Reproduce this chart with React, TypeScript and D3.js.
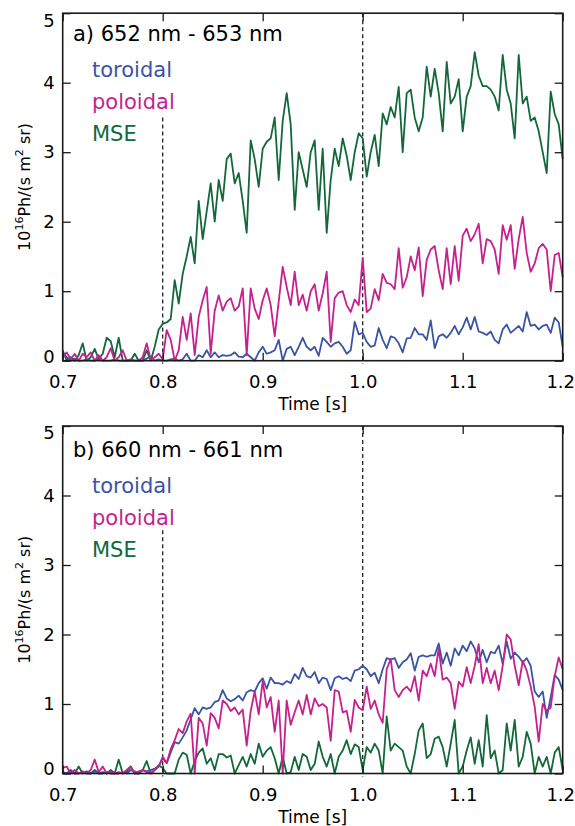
import React, { useRef, useEffect } from "react";
import * as d3 from "d3";

// sampling of the traces: one value every 4 ms from 0.7 s
const T_START = 0.7;
const T_STEP = 0.004;

const panelTitles = ["a) 652 nm - 653 nm", "b) 660 nm - 661 nm"];
const seriesNames = ["toroidal", "poloidal", "MSE"];
const seriesColors = ["#3a54a5", "#c71f8d", "#12683a"];
const xTicks = [0.7, 0.8, 0.9, 1.0, 1.1, 1.2];
const xTickLabels = ["0.7", "0.8", "0.9", "1.0", "1.1", "1.2"];
const yTicks = [0, 1, 2, 3, 4, 5];
const markerTimes = [0.8, 1.0];
const markerTops = [3.5, 5];

// panel a) 652 - 653 nm
const aToroidal = [
  0.12, 0.05, 0.0, 0.03, 0.0, 0.0, 0.02, 0.0, 0.0, 0.03,
  0.0, 0.0, 0.0, 0.02, 0.0, 0.0, 0.0, 0.0, 0.0, 0.0,
  0.0, 0.03, 0.06, 0.0, 0.02, 0.0, 0.0, 0.02, 0.03, 0.0,
  0.02, 0.1, 0.0, 0.0, 0.08, 0.05, 0.15, 0.05, 0.12, 0.05,
  0.08, 0.07, 0.08, 0.12, 0.06, 0.05, 0.1, 0.05, 0.0, 0.12,
  0.2, 0.1, 0.12, 0.15, 0.3, 0.0, 0.17, 0.2, 0.08, 0.2,
  0.33, 0.2, 0.15, 0.2, 0.07, 0.33, 0.27, 0.2, 0.25, 0.27,
  0.2, 0.1, 0.15, 0.56, 0.38, 0.4, 0.27, 0.2, 0.22, 0.47,
  0.3, 0.18, 0.35, 0.33, 0.25, 0.12, 0.32, 0.33, 0.47, 0.38,
  0.38, 0.3, 0.58, 0.18, 0.35, 0.38, 0.33, 0.4, 0.5, 0.38,
  0.48, 0.62, 0.45, 0.63, 0.42, 0.4, 0.37, 0.42, 0.3, 0.25,
  0.45, 0.52, 0.4, 0.45, 0.5, 0.42, 0.7, 0.5, 0.52, 0.45,
  0.5, 0.52, 0.4, 0.62, 0.55, 0.2,
];
const aPoloidal = [
  0.05, 0.12, 0.02, 0.1, 0.0, 0.1, 0.05, 0.12, 0.0, 0.08,
  0.0, 0.05, 0.18, 0.0, 0.05, 0.15, 0.0, 0.02, 0.0, 0.0,
  0.05, 0.25, 0.02, 0.05, 0.1, 0.02, 0.44, 0.3, 0.0, 0.15,
  0.63, 0.3, 0.68, 0.08, 0.63, 0.87, 1.06, 0.1, 0.72, 0.94,
  0.72, 0.85, 0.9, 0.72, 0.78, 1.04, 0.08, 1.04, 0.75, 0.6,
  0.87, 1.04, 0.8, 0.35, 0.85, 1.35, 1.06, 0.8, 1.28, 0.8,
  0.95, 0.72, 1.0, 1.1, 0.72, 0.97, 1.28, 0.27, 0.9, 0.98,
  1.0, 0.8, 0.7, 0.88, 0.8, 1.48, 0.7, 0.75, 1.03, 0.87,
  1.25, 1.12, 1.1, 1.03, 1.62, 1.05, 1.2, 1.5, 1.3, 1.63,
  0.93, 1.45, 1.6, 1.65, 1.3, 1.03, 1.62, 1.1, 1.65, 1.15,
  1.8, 1.9, 1.72, 1.82, 1.97, 1.4, 1.75, 1.72, 1.6, 1.25,
  1.95, 1.74, 1.95, 1.32, 1.75, 2.07, 1.55, 1.28, 1.4, 1.62,
  1.68, 1.6, 1.0, 1.52, 1.55, 1.2,
];
const aMSE = [
  0.15, 0.0, 0.05, 0.0, 0.08, 0.25, 0.0, 0.05, 0.17, 0.02,
  0.1, 0.33, 0.28, 0.05, 0.33, 0.0, 0.0, 0.0, 0.1, 0.0,
  0.0, 0.15, 0.0, 0.2, 0.45, 0.53, 0.55, 0.6, 1.16, 0.82,
  1.25, 1.5, 1.78, 1.4, 2.3, 1.75, 2.15, 2.55, 2.0, 2.6,
  2.3, 2.9, 2.98, 2.55, 2.7, 2.3, 1.84, 3.17, 2.9, 2.5,
  3.05, 3.15, 3.2, 3.5, 2.6, 3.45, 3.85, 3.4, 2.17, 3.0,
  2.75, 2.5, 3.0, 3.17, 2.17, 3.05, 1.84, 2.6, 3.05, 2.8,
  3.2, 2.95, 2.6, 3.0, 3.27, 3.2, 2.65, 3.0, 3.25, 2.8,
  3.56, 3.4, 3.65, 3.5, 3.94, 3.0, 3.85, 3.9, 3.5, 3.3,
  3.5, 4.23, 3.8, 4.2, 3.85, 3.3, 4.3, 3.7, 3.8, 4.05,
  3.3, 3.8, 3.95, 4.44, 4.1, 3.95, 3.95, 3.9, 3.8, 3.6,
  4.4, 3.9, 3.7, 3.2, 4.4, 3.7, 3.8, 3.45, 3.5, 3.3,
  3.0, 2.7, 3.87, 3.55, 3.4, 2.9,
];

// panel b) 660 - 661 nm
const bToroidal = [
  0.02, 0.0, 0.03, 0.0, 0.0, 0.02, 0.0, 0.0, 0.03, 0.0,
  0.0, 0.02, 0.0, 0.0, 0.0, 0.02, 0.0, 0.05, 0.03, 0.0,
  0.05, 0.03, 0.05, 0.07, 0.1, 0.22, 0.15, 0.3, 0.45, 0.43,
  0.52, 0.62, 0.78, 0.94, 0.85, 0.95, 0.93, 0.95, 1.03, 1.05,
  1.2, 1.08, 1.04, 1.07, 1.12, 1.05, 1.17, 1.2, 1.18, 1.3,
  1.37, 1.22, 1.38, 1.3, 1.3, 1.28, 1.33, 1.3, 1.43, 1.36,
  1.52, 1.4, 1.38, 1.46, 1.3, 1.38, 1.36, 1.2, 1.37, 1.4,
  1.36, 1.38, 1.33, 1.48, 1.5, 1.55, 1.5, 1.4, 1.45, 1.3,
  1.5, 1.66, 1.64, 1.66, 1.52, 1.6, 1.64, 1.73, 1.48, 1.68,
  1.7, 1.68, 1.7, 1.7, 1.87, 1.58, 1.74, 1.55, 1.8, 1.7,
  1.84, 1.76, 1.9, 1.8, 1.6, 1.78, 1.6, 1.75, 1.73, 1.84,
  1.58, 1.9, 1.65, 1.74, 1.68, 1.6, 1.66, 1.55, 1.18, 1.1,
  1.18, 0.8, 1.1, 1.42, 1.35, 1.2,
];
const bPoloidal = [
  0.08, 0.1, 0.0, 0.05, 0.0, 0.03, 0.0, 0.05, 0.2, 0.02,
  0.1, 0.0, 0.03, 0.0, 0.02, 0.0, 0.05, 0.1, 0.0, 0.03,
  0.05, 0.02, 0.0, 0.05, 0.1, 0.24, 0.15, 0.35, 0.48, 0.64,
  0.58, 0.75, 0.86, 0.0, 0.8, 0.72, 0.4, 0.87, 0.8, 0.65,
  1.05, 1.0, 0.9, 0.95, 0.85, 0.92, 0.4, 0.9, 1.18, 0.85,
  1.33, 0.95, 1.1, 0.6, 1.05, 0.0, 1.05, 0.7, 0.88, 1.05,
  0.85, 1.13, 0.85, 1.08, 0.97, 1.0, 0.95, 0.47, 1.2, 1.18,
  0.88, 0.9, 0.6, 1.06, 0.95, 0.91, 1.25, 0.93, 1.05, 0.85,
  0.73, 1.5, 1.65, 1.2, 1.1, 1.2, 1.25, 1.18, 1.4, 1.05,
  1.48, 1.4, 1.58, 1.4, 1.8, 1.35, 1.38, 1.3, 0.93, 1.32,
  1.25, 1.53, 1.3, 1.55, 1.86, 1.3, 1.52, 1.3, 1.48, 1.2,
  1.55, 2.0, 1.93, 1.55, 1.27, 1.62, 1.48, 1.25, 0.96, 0.46,
  1.0, 0.9, 0.95, 1.4, 1.67, 1.5,
];
const bMSE = [
  0.02, 0.0, 0.05, 0.0, 0.1, 0.0, 0.03, 0.0, 0.05, 0.0,
  0.02, 0.0, 0.05, 0.0, 0.2, 0.0, 0.02, 0.1, 0.0, 0.0,
  0.05, 0.18, 0.0, 0.05, 0.12, 0.08, 0.0, 0.0, 0.0, 0.2,
  0.3, 0.27, 0.0, 0.18, 0.3, 0.36, 0.14, 0.22, 0.05, 0.28,
  0.28, 0.23, 0.26, 0.0, 0.12, 0.24, 0.1, 0.28, 0.14, 0.43,
  0.24, 0.33, 0.38, 0.22, 0.0, 0.24, 0.0, 0.02, 0.24, 0.05,
  0.28, 0.24, 0.05, 0.14, 0.46, 0.24, 0.1, 0.28, 0.0, 0.24,
  0.33, 0.48, 0.28, 0.42, 0.38, 0.05, 0.38, 0.3, 0.43, 0.33,
  0.0, 0.82, 0.33, 0.43, 0.38, 0.33, 0.1, 0.0, 0.28, 0.62,
  0.72, 0.22, 0.28, 0.5, 0.53, 0.38, 0.1, 0.43, 0.77, 0.0,
  0.1, 0.33, 0.52, 0.14, 0.48, 0.1, 0.84, 0.22, 0.33, 0.0,
  0.05, 0.72, 0.33, 0.77, 0.1, 0.24, 0.6, 0.43, 0.0, 0.24,
  0.1, 0.24, 0.0, 0.3, 0.38, 0.05,
];

const FONT = "'DejaVu Sans', sans-serif";
const WIDTH = 575;
const HEIGHT = 826;
const LEFT = 62.7;
const RIGHT = 562.7;
const TICK = 8;

const panels = [
  { title: panelTitles[0], series: [aToroidal, aPoloidal, aMSE], top: 13.2, bottom: 360.7, titleY: 41, legendY: 76.5 },
  { title: panelTitles[1], series: [bToroidal, bPoloidal, bMSE], top: 426, bottom: 773.5, titleY: 457, legendY: 492.5 },
];

// draw order: MSE below, then toroidal, poloidal on top
const drawOrder = [2, 0, 1];

const App = () => {
  const svgRef = useRef<SVGSVGElement>(null);

  useEffect(() => {
    const svg = d3.select(svgRef.current);
    svg.selectAll("*").remove();

    panels.forEach((p) => {
      const x = d3.scaleLinear().domain([0.7, 1.2]).range([LEFT, RIGHT]);
      const y = d3.scaleLinear().domain([0, 5]).range([p.bottom, p.top]);
      const g = svg.append("g");

      // dashed markers at 0.8 s and 1.0 s
      g.selectAll(".marker")
        .data(markerTimes)
        .join("line")
        .attr("class", "marker")
        .attr("x1", (d) => x(d))
        .attr("x2", (d) => x(d))
        .attr("y1", (d, i) => y(markerTops[i]))
        .attr("y2", y(0) + 3)
        .attr("stroke", "#222")
        .attr("stroke-width", 1.3)
        .attr("stroke-dasharray", "4,3");

      const traceLine = d3
        .line<number>()
        .x((_, i) => x(T_START + i * T_STEP))
        .y((v) => y(v));

      drawOrder.forEach((k) => {
        g.append("path")
          .datum(p.series[k])
          .attr("d", traceLine)
          .attr("fill", "none")
          .attr("stroke", seriesColors[k])
          .attr("stroke-width", 1.8)
          .attr("stroke-linejoin", "round");
      });

      // axes, ticks pointing inward on all four sides
      const xAxis = d3
        .axisBottom(x)
        .tickValues(xTicks)
        .tickFormat((d, i) => xTickLabels[i])
        .tickSizeInner(-TICK)
        .tickSizeOuter(0)
        .tickPadding(15);
      const gx = g.append("g").attr("transform", `translate(0,${p.bottom})`).call(xAxis);

      const gxTop = g
        .append("g")
        .attr("transform", `translate(0,${p.top})`)
        .call(d3.axisTop(x).tickValues(xTicks).tickFormat(() => "").tickSizeInner(-TICK).tickSizeOuter(0));

      const yAxis = d3
        .axisLeft(y)
        .tickValues(yTicks)
        .tickFormat(d3.format("d"))
        .tickSizeInner(-TICK)
        .tickSizeOuter(0)
        .tickPadding(8);
      const gy = g.append("g").attr("transform", `translate(${LEFT},0)`).call(yAxis);

      const gyRight = g
        .append("g")
        .attr("transform", `translate(${RIGHT},0)`)
        .call(d3.axisRight(y).tickValues(yTicks).tickFormat(() => "").tickSizeInner(-TICK).tickSizeOuter(0));

      [gx, gxTop, gy, gyRight].forEach((a) => {
        a.select(".domain").remove();
        a.selectAll(".tick line").attr("stroke", "#1a1a1a").attr("stroke-width", 1.3);
        a.attr("font-family", FONT).attr("font-size", 18);
        a.selectAll(".tick text").attr("fill", "#000");
      });
      // end labels are nudged inward
      gy.selectAll<SVGTextElement, number>(".tick text").attr("dy", (d) =>
        d === 5 ? "0.72em" : d === 0 ? "0.08em" : "0.32em"
      );
      gx.selectAll<SVGTextElement, number>(".tick text").attr("dx", (d) => (d === 1.2 ? -2.5 : 0));

      // frame
      g.append("rect")
        .attr("x", LEFT)
        .attr("y", p.top)
        .attr("width", RIGHT - LEFT)
        .attr("height", p.bottom - p.top)
        .attr("fill", "none")
        .attr("stroke", "#1a1a1a")
        .attr("stroke-width", 1.6);

      // title and legend
      g.append("text")
        .attr("x", 73)
        .attr("y", p.titleY)
        .attr("font-family", FONT)
        .attr("font-size", 21)
        .attr("fill", "#000")
        .text(p.title);

      g.selectAll(".legend")
        .data(seriesNames)
        .join("text")
        .attr("class", "legend")
        .attr("x", 92)
        .attr("y", (d, i) => p.legendY + i * 32)
        .attr("font-family", FONT)
        .attr("font-size", 21)
        .attr("fill", (d, i) => seriesColors[i])
        .text((d) => d);

      // axis titles
      g.append("text")
        .attr("x", (LEFT + RIGHT) / 2)
        .attr("y", p.bottom + 49)
        .attr("text-anchor", "middle")
        .attr("font-family", FONT)
        .attr("font-size", 17)
        .text("Time [s]");

      const yl = g
        .append("text")
        .attr("transform", `translate(30,${(p.top + p.bottom) / 2}) rotate(-90)`)
        .attr("text-anchor", "middle")
        .attr("font-family", FONT)
        .attr("font-size", 16);
      yl.append("tspan").text("10");
      yl.append("tspan").attr("font-size", 11).attr("dy", -7).text("16");
      yl.append("tspan").attr("dy", 7).text("Ph/(s m");
      yl.append("tspan").attr("font-size", 11).attr("dy", -7).text("2");
      yl.append("tspan").attr("dy", 7).text(" sr)");
    });
  }, []);

  return (
    <svg
      ref={svgRef}
      width={WIDTH}
      height={HEIGHT}
      style={{ position: "absolute", left: 0, top: 0, background: "#fff" }}
    />
  );
};

export default App;
